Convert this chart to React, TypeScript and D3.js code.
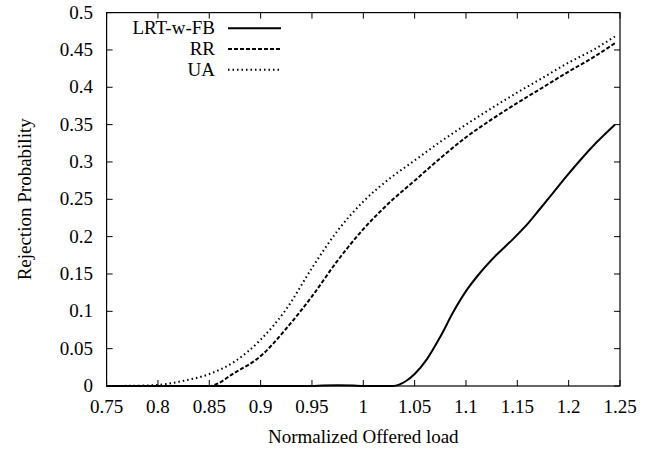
import React from "react";
import * as d3 from "d3";

// ---- data ----
const xTicks = [0.75, 0.8, 0.85, 0.9, 0.95, 1.0, 1.05, 1.1, 1.15, 1.2, 1.25];
const xTickLabels = ["0.75", "0.8", "0.85", "0.9", "0.95", "1", "1.05", "1.1", "1.15", "1.2", "1.25"];
const yTicks = [0, 0.05, 0.1, 0.15, 0.2, 0.25, 0.3, 0.35, 0.4, 0.45, 0.5];
const yTickLabels = ["0", "0.05", "0.1", "0.15", "0.2", "0.25", "0.3", "0.35", "0.4", "0.45", "0.5"];

const lrtX = [0.75, 0.8, 0.85, 0.9, 0.95, 0.96, 0.975, 0.99, 1.0, 1.029, 1.042, 1.05, 1.062, 1.075, 1.088, 1.1, 1.114, 1.13, 1.146, 1.16, 1.172, 1.185, 1.198, 1.211, 1.227, 1.245];
const lrtY = [0, 0, 0, 0, 0, 0.0006, 0.001, 0.0006, 0, 0, 0.007, 0.016, 0.036, 0.066, 0.1, 0.127, 0.152, 0.176, 0.197, 0.217, 0.237, 0.259, 0.281, 0.302, 0.326, 0.35];

const rrX = [0.75, 0.8, 0.85, 0.875, 0.9, 0.925, 0.95, 0.975, 1.0, 1.025, 1.05, 1.075, 1.1, 1.125, 1.15, 1.175, 1.2, 1.225, 1.245];
const rrY = [0, 0, 0, 0.018, 0.04, 0.077, 0.12, 0.168, 0.21, 0.245, 0.275, 0.305, 0.333, 0.357, 0.379, 0.4, 0.421, 0.441, 0.459];

const uaX = [0.75, 0.775, 0.8, 0.825, 0.85, 0.875, 0.9, 0.925, 0.95, 0.975, 1.0, 1.025, 1.05, 1.075, 1.1, 1.125, 1.15, 1.175, 1.2, 1.225, 1.245];
const uaY = [0, 0.0003, 0.0015, 0.007, 0.016, 0.033, 0.062, 0.103, 0.158, 0.208, 0.247, 0.277, 0.302, 0.327, 0.35, 0.372, 0.393, 0.413, 0.433, 0.451, 0.468];

const seriesNames = ["LRT-w-FB", "RR", "UA"];

const W = 665, H = 450;
const left = 106.6, right = 620, top = 12.6, bottom = 386;
const FONT = "Liberation Serif";
const FS = 19;

export default function App() {
  const x = d3.scaleLinear().domain([0.75, 1.25]).range([left, right]);
  const y = d3.scaleLinear().domain([0, 0.5]).range([bottom, top]);
  const line = d3
    .line<[number, number]>()
    .x((d) => x(d[0]))
    .y((d) => y(d[1]))
    .curve(d3.curveMonotoneX);

  const zip = (a: number[], b: number[]) => a.map((v, i) => [v, b[i]] as [number, number]);
  const series = [
    { name: seriesNames[0], d: zip(lrtX, lrtY), dash: undefined as string | undefined },
    { name: seriesNames[1], d: zip(rrX, rrY), dash: "4,2" },
    { name: seriesNames[2], d: zip(uaX, uaY), dash: "1.5,3" },
  ];
  const tick = 6;
  const legendRows = [28.3, 49, 69.7];

  return (
    <svg
      width={W}
      height={H}
      style={{ position: "absolute", left: 0, top: 0, background: "#fff" }}
      fontFamily={FONT}
      fontSize={FS}
    >
      <rect x={0} y={0} width={W} height={H} fill="#fff" />
      {xTicks.map((t, i) => (
        <g key={"xt" + i}>
          <line x1={x(t)} x2={x(t)} y1={bottom} y2={bottom - tick} stroke="#000" strokeWidth={1} />
          <line x1={x(t)} x2={x(t)} y1={top} y2={top + tick} stroke="#000" strokeWidth={1} />
          <text x={x(t)} y={413} textAnchor="middle" fill="#000">
            {xTickLabels[i]}
          </text>
        </g>
      ))}
      {yTicks.map((t, i) => (
        <g key={"yt" + i}>
          <line x1={left} x2={left + tick} y1={y(t)} y2={y(t)} stroke="#000" strokeWidth={1} />
          <line x1={right} x2={right - tick} y1={y(t)} y2={y(t)} stroke="#000" strokeWidth={1} />
          <text x={93} y={y(t) + 6} textAnchor="end" fill="#000">
            {yTickLabels[i]}
          </text>
        </g>
      ))}
      {series.map((s, i) => (
        <path
          key={"s" + i}
          d={line(s.d) || ""}
          fill="none"
          stroke="#000"
          strokeWidth={2}
          strokeDasharray={s.dash}
        />
      ))}
      <rect x={left} y={top} width={right - left} height={bottom - top} fill="none" stroke="#000" strokeWidth={1.2} />
      {series.map((s, i) => (
        <g key={"lg" + i}>
          <text x={215} y={legendRows[i] + 6} textAnchor="end" fill="#000">
            {s.name}
          </text>
          <line x1={228} x2={281} y1={legendRows[i]} y2={legendRows[i]} stroke="#000" strokeWidth={2} strokeDasharray={s.dash} />
        </g>
      ))}
      <text x={(left + right) / 2} y={443} textAnchor="middle" fill="#000">
        Normalized Offered load
      </text>
      <text transform={`translate(31, ${(top + bottom) / 2}) rotate(-90)`} textAnchor="middle" fill="#000">
        Rejection Probability
      </text>
    </svg>
  );
}
